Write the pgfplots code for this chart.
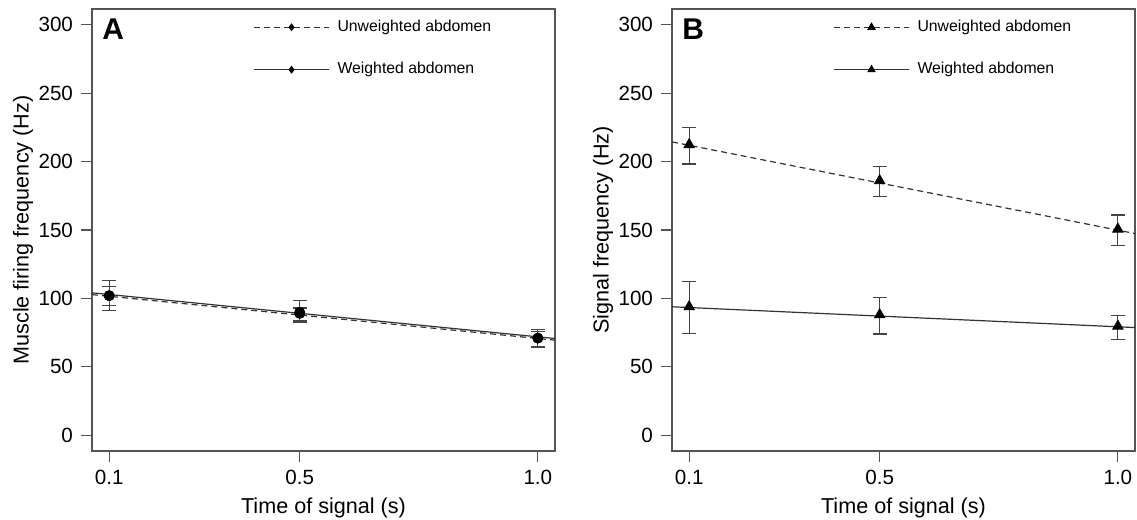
\documentclass[border=0pt]{standalone}
\usepackage{pgfplots}
\pgfplotsset{compat=1.18}
\usepackage{fontspec}
\setmainfont{Liberation Sans}
\definecolor{frame}{HTML}{555555}
\definecolor{ln}{HTML}{333333}
\definecolor{eb}{HTML}{444444}
\pgfplotsset{
  panel/.style={
    scale only axis, width=231.5pt, height=221pt,
    xmin=0.064, xmax=1.036, ymin=-11.5, ymax=311.5,
    xtick={0.1,0.5,1.0}, xticklabels={0.1,0.5,1.0},
    ytick={0,50,100,150,200,250,300},
    tick pos=left, tick align=outside, major tick length=5.5pt,
    every tick/.style={frame, line width=0.6pt},
    axis line style={frame, line width=0.6pt},
    /pgf/number format/assume math mode=true,
    tick label style={font=\fontsize{10.3}{12}\selectfont},
    label style={font=\fontsize{10.8}{13}\selectfont},
    xlabel={Time of signal (s)},
    xlabel style={at={(axis description cs:0.5,-0.129)}, anchor=center},
    ylabel style={at={(axis description cs:-0.149,0.5)}, anchor=center},
    yticklabel style={xshift=-0.5pt},
    xticklabel style={yshift=-0.5pt},
    legend style={draw=none, fill=none, at={(rel axis cs:0.348,0.985)}, anchor=north west,
      font=\fontsize{7.9}{9}\selectfont, row sep=10pt, inner sep=0pt,
      nodes={inner sep=2pt},
      /tikz/every odd column/.append style={column sep=2pt}},
    legend cell align=left,
    legend image code/.code={
      \draw[#1,mark repeat=2,mark phase=2] plot coordinates {(0pt,0pt) (18.75pt,0pt) (37.5pt,0pt)};
    },
  },
  errb/.style={only marks, black,
      error bars/y dir=both, error bars/y explicit,
      error bars/error bar style={eb, line width=0.6pt},
      error bars/error mark options={eb, line width=0.6pt, mark size=3.5pt, rotate=90}},
  dsh/.style={dash pattern=on 3pt off 2pt},
}
\begin{document}
\begin{tikzpicture}[x=1pt,y=1pt]
\path (0,0) rectangle (568.5,260);
% Panel A
\begin{axis}[panel, at={(46pt,34.5pt)}, anchor=south west,
  ylabel={Muscle firing frequency (Hz)}]
\addlegendimage{ln, line width=0.5pt, dsh, mark=diamond*, mark size=1.6pt, mark options={solid, black}}
\addlegendentry{Unweighted abdomen}
\addlegendimage{ln, line width=0.5pt, mark=diamond*, mark size=1.6pt, mark options={black}}
\addlegendentry{Weighted abdomen}
\addplot[ln, line width=0.6pt, forget plot] coordinates {(0.064,104.1) (1.036,70.7)};
\addplot[ln, line width=0.6pt, dsh, forget plot] coordinates {(0.064,102.8) (1.036,69.5)};
\addplot[errb, mark=*, mark size=2.5pt, forget plot] coordinates {
  (0.1,102) +=(0,11) -=(0,11)
  (0.5,90) +=(0,8.5) -=(0,6.5)
  (1.0,71) +=(0,6.5) -=(0,6.5)
};
\addplot[errb, mark=*, mark size=2.5pt, forget plot] coordinates {
  (0.1,102) +=(0,7) -=(0,7)
  (0.5,89) +=(0,4) -=(0,6.5)
  (1.0,71) +=(0,5) -=(0,6)
};
\node[anchor=north west, inner sep=0pt, font=\fontsize{15}{15}\selectfont\bfseries] at (rel axis cs:0.0216,0.9796) {A};
\end{axis}
% Panel B
\begin{axis}[panel, at={(336pt,34.5pt)}, anchor=south west,
  ylabel={Signal frequency (Hz)}]
\addlegendimage{ln, line width=0.5pt, dsh, mark=triangle*, mark size=2pt, mark options={solid, black}}
\addlegendentry{Unweighted abdomen}
\addlegendimage{ln, line width=0.5pt, mark=triangle*, mark size=2pt, mark options={black}}
\addlegendentry{Weighted abdomen}
\addplot[ln, line width=0.6pt, dsh, forget plot] coordinates {(0.064,214.4) (1.036,147.4)};
\addplot[ln, line width=0.6pt, forget plot] coordinates {(0.064,93.9) (1.036,78.7)};
\addplot[errb, mark=triangle*, mark size=3pt, forget plot] coordinates {
  (0.1,212.4) +=(0,12.3) -=(0,14.2)
  (0.5,186) +=(0,10.2) -=(0,11.4)
  (1.0,150.6) +=(0,10.3) -=(0,11.8)
};
\addplot[errb, mark=triangle*, mark size=3pt, forget plot] coordinates {
  (0.1,93.9) +=(0,18.4) -=(0,19.4)
  (0.5,88) +=(0,12.8) -=(0,14)
  (1.0,79.7) +=(0,7.6) -=(0,9.7)
};
\node[anchor=north west, inner sep=0pt, font=\fontsize{15}{15}\selectfont\bfseries] at (rel axis cs:0.0216,0.9796) {B};
\end{axis}
\pgfresetboundingbox
\path (0,0) rectangle (568.5,260);
\end{tikzpicture}
\end{document}
